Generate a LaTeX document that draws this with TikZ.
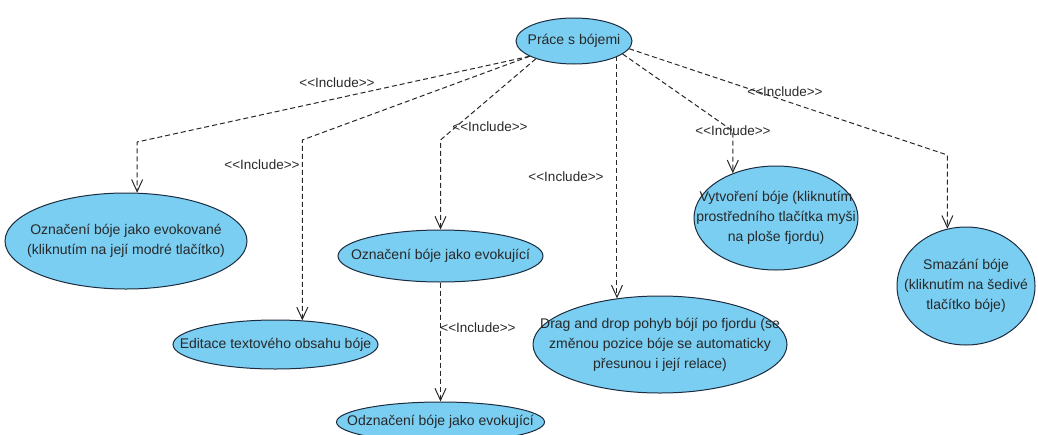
\documentclass[tikz,border=0pt]{standalone}
\usepackage{fontspec}
\setmainfont{Liberation Sans}[Ligatures=TeXOff]
\usetikzlibrary{shapes.geometric,arrows.meta}
\definecolor{ucfill}{RGB}{122,206,242}
\definecolor{ucline}{RGB}{28,44,62}
\definecolor{inkgray}{RGB}{40,40,40}
\newcommand{\incl}{<<Include>>}
\begin{document}
\begin{tikzpicture}[x=1pt,y=-1pt,
  usecase/.style={ellipse, draw=ucline, fill=ucfill, line width=1pt, inner sep=0pt},
  uctext/.style={align=center, text=inkgray, font=\fontsize{14}{20}\selectfont, inner sep=0pt},
  include/.style={draw=inkgray, line width=1pt, dash pattern=on 5pt off 3pt,
    -{Straight Barb[length=12pt,width=11pt]}},
  inclabel/.style={text=inkgray, font=\fontsize{13.5}{15}\selectfont, inner sep=1pt}]
\useasboundingbox (0,0) rectangle (1038,434);

% use cases
\node[usecase, minimum width=116pt, minimum height=46pt,
  label={[uctext]center:Práce s bójemi}] (top) at (574,41) {};
\node[usecase, minimum width=242pt, minimum height=96pt,
  label={[uctext]center:Označení bóje jako evokované\\(kliknutím na její modré tlačítko)}] (evokovane) at (126,241) {};
\node[usecase, minimum width=205pt, minimum height=49pt,
  label={[uctext]center:Editace textového obsahu bóje}] (editace) at (275.5,344.5) {};
\node[usecase, minimum width=205pt, minimum height=52pt,
  label={[uctext]center:Označení bóje jako evokující}] (evokujici) at (440.5,256) {};
\node[usecase, minimum width=208pt, minimum height=40pt,
  label={[uctext]center:Odznačení bóje jako evokující}] (odznaceni) at (440.5,422) {};
\node[usecase, minimum width=254pt, minimum height=97pt,
  label={[uctext]center:Drag and drop pohyb bójí po fjordu (se\\změnou pozice bóje se automaticky\\přesunou i její relace)}] (drag) at (660,344.5) {};
\node[usecase, minimum width=164pt, minimum height=104pt,
  label={[uctext]center:Vytvoření bóje (kliknutím\\prostředního tlačítka myši\\na ploše fjordu)}] (vytvoreni) at (776,218) {};
\node[usecase, minimum width=138pt, minimum height=118pt,
  label={[uctext]center:Smazání bóje\\(kliknutím na šedivé\\tlačítko bóje)}] (smazani) at (966,286) {};

% include relations
\draw[include] (top.199) -- (evokovane.77 |- 0,142) -- (evokovane.77);
\draw[include] (top.199) -- (editace.42 |- 0,140) -- (editace.42);
\draw[include] (top.205) -- (evokujici.north |- 0,140) -- (evokujici.north);
\draw[include] (evokujici.south) -- (odznaceni.north);
\draw[include] (drag.133 |- top.342) -- (drag.133);
\draw[include] (top.345) -- (vytvoreni.134 |- 0,131) -- (vytvoreni.134);
\draw[include] (top.352) -- (smazani.108 |- 0,155) -- (smazani.108);

% stereotype labels
\node[inclabel] (l1) at (337,83) {\incl};
\node[inclabel] (l2) at (262,165) {\incl};
\node[inclabel] (l3) at (490,127) {\incl};
\node[inclabel] (l4) at (478,328) {\incl};
\node[inclabel] (l5) at (566,177) {\incl};
\node[inclabel] (l6) at (733,131) {\incl};
\node[inclabel] (l7) at (785,92) {\incl};
\end{tikzpicture}
\end{document}
